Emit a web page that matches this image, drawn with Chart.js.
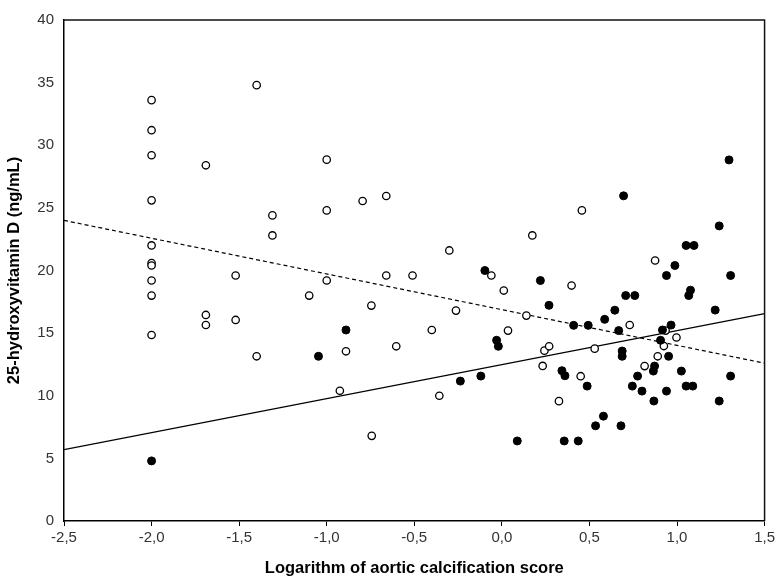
<!DOCTYPE html>
<html>
<head>
<meta charset="utf-8">
<script src="https://cdn.jsdelivr.net/npm/chart.js@4/dist/chart.umd.min.js"></script>
<style>
  html, body { margin: 0; padding: 0; background: #fff; }
  #wrap { width: 778px; height: 578px; position: relative; }
</style>
</head>
<body>
<div id="wrap"><canvas id="c" width="778" height="578"></canvas></div>
<script>
// ---- Data ----
const openX = [-2.0, -2.0, -2.0, -2.0, -2.0, -2.0, -2.0, -2.0, -2.0, -2.0,
  -1.69, -1.69, -1.69, -1.52, -1.52, -1.40, -1.40, -1.31, -1.31, -1.10,
  -1.00, -1.00, -1.00, -0.925, -0.89, -0.795, -0.745, -0.743, -0.66, -0.66,
  -0.603, -0.51, -0.40, -0.357, -0.30, -0.262, -0.06, 0.011, 0.035, 0.14,
  0.174, 0.233, 0.243, 0.27, 0.326, 0.398, 0.45, 0.457, 0.53, 0.73,
  0.815, 0.875, 0.89, 0.925, 0.997, 0.935];
const openY = [33.6, 31.2, 29.2, 25.6, 22.0, 20.6, 20.4, 19.2, 18.0, 14.85,
  28.4, 16.45, 15.65, 19.6, 16.05, 34.8, 13.15, 24.4, 22.8, 18.0,
  28.85, 24.8, 19.2, 10.4, 13.55, 25.55, 17.2, 6.8, 25.95, 19.6,
  13.95, 19.6, 15.25, 10.0, 21.6, 16.8, 19.6, 18.4, 15.2, 16.4,
  22.8, 12.38, 13.6, 13.95, 9.57, 18.8, 11.56, 24.8, 13.76, 15.65,
  12.37, 20.8, 13.15, 13.97, 14.65, 15.2];

const filledX = [-2.0, -1.047, -0.89, -0.237, -0.12, -0.097, -0.03, -0.02, 0.088, 0.22,
  0.269, 0.343, 0.36, 0.356, 0.436, 0.41, 0.493, 0.487, 0.535, 0.58,
  0.587, 0.645, 0.667, 0.687, 0.687, 0.68, 0.695, 0.707, 0.759, 0.745,
  0.775, 0.80, 0.868, 0.865, 0.872, 0.906, 0.917, 0.94, 0.94, 0.952,
  0.966, 0.988, 1.025, 1.052, 1.097, 1.067, 1.077, 1.052, 1.09, 1.218,
  1.241, 1.241, 1.297, 1.306, 1.306];
const filledY = [4.8, 13.15, 15.25, 11.17, 11.57, 20.0, 14.43, 13.95, 6.39, 19.2,
  17.22, 12.0, 11.6, 6.39, 6.39, 15.62, 15.62, 10.77, 7.6, 8.37,
  16.1, 16.83, 15.2, 13.57, 13.15, 7.6, 25.96, 18.0, 18.0, 10.77,
  11.57, 10.37, 9.58, 11.97, 12.37, 14.43, 15.25, 19.6, 10.37, 13.15,
  15.64, 20.4, 11.97, 22.0, 22.0, 18.0, 18.43, 10.77, 10.77, 16.84,
  23.56, 9.58, 28.83, 19.6, 11.57];

const solidLineX = [-2.5, 1.5];
const solidLineY = [5.7, 16.56];
const dashedLineX = [-2.5, 1.5];
const dashedLineY = [24.0, 12.6];

const xTickValues = [-2.5, -2.0, -1.5, -1.0, -0.5, 0.0, 0.5, 1.0, 1.5];
const xTickLabels = ['-2,5', '-2,0', '-1,5', '-1,0', '-0,5', '0,0', '0,5', '1,0', '1,5'];
const yTickValues = [0, 5, 10, 15, 20, 25, 30, 35, 40];
const yTickLabels = ['0', '5', '10', '15', '20', '25', '30', '35', '40'];

const xTitle = 'Logarithm of aortic calcification score';
const yTitle = '25-hydroxyvitamin D (ng/mL)';

// ---- Build ----
const pts = (xs, ys) => xs.map((x, i) => ({ x: x, y: ys[i] }));

const tickFont = { family: "'Liberation Sans Narrow', 'Arial Narrow', 'Liberation Sans', sans-serif", size: 15 };
const titleFont = { family: "'Liberation Sans', Arial, sans-serif", size: 16.5, weight: 'bold' };

const boxPlugin = {
  id: 'box',
  afterDraw(chart) {
    const a = chart.chartArea, ctx = chart.ctx;
    ctx.save();
    ctx.strokeStyle = '#111';
    ctx.lineWidth = 1.5;
    ctx.beginPath();
    ctx.moveTo(a.left, a.top);
    ctx.lineTo(a.right, a.top);
    ctx.lineTo(a.right, a.bottom);
    ctx.stroke();
    ctx.restore();
  }
};

new Chart(document.getElementById('c'), {
  type: 'scatter',
  data: {
    datasets: [
      {
        label: 'filled',
        data: pts(filledX, filledY),
        pointRadius: 4,
        pointBackgroundColor: '#000',
        pointBorderColor: '#000',
        pointBorderWidth: 1,
        showLine: false
      },
      {
        label: 'open',
        data: pts(openX, openY),
        pointRadius: 3.7,
        pointBackgroundColor: '#fff',
        pointBorderColor: '#000',
        pointBorderWidth: 1.3,
        showLine: false
      },
      {
        type: 'line',
        label: 'solid',
        data: pts(solidLineX, solidLineY),
        borderColor: '#000',
        borderWidth: 1.2,
        pointRadius: 0,
        fill: false
      },
      {
        type: 'line',
        label: 'dashed',
        data: pts(dashedLineX, dashedLineY),
        borderColor: '#000',
        borderWidth: 1.2,
        borderDash: [4, 3],
        pointRadius: 0,
        fill: false
      }
    ]
  },
  options: {
    responsive: false,
    animation: false,
    layout: { padding: { top: 20, right: 11, left: 0, bottom: 0 } },
    plugins: { legend: { display: false }, tooltip: { enabled: false } },
    scales: {
      x: {
        type: 'linear',
        min: -2.5, max: 1.5,
        afterBuildTicks(s) { s.ticks = xTickValues.map(v => ({ value: v })); },
        afterFit(s) { s.height = 57; },
        grid: { display: true, drawOnChartArea: false, drawTicks: true, tickLength: 5, color: '#000', lineWidth: 1 },
        border: { display: true, color: '#000', width: 1.5 },
        ticks: {
          font: tickFont, color: '#333', padding: 3, maxRotation: 0, autoSkip: false,
          callback(v) { const i = xTickValues.indexOf(v); return i >= 0 ? xTickLabels[i] : ''; }
        },
        title: { display: true, text: xTitle, font: titleFont, color: '#000', padding: { top: 0, bottom: 0 } }
      },
      y: {
        type: 'linear',
        min: 0, max: 40,
        afterBuildTicks(s) { s.ticks = yTickValues.map(v => ({ value: v })); },
        afterFit(s) { s.width = 64; },
        grid: { display: false, drawTicks: false },
        border: { display: true, color: '#000', width: 1.5 },
        ticks: {
          font: tickFont, color: '#333', padding: 10, autoSkip: false,
          callback(v) { const i = yTickValues.indexOf(v); return i >= 0 ? yTickLabels[i] : ''; }
        },
        title: { display: true, text: yTitle, font: titleFont, color: '#000', padding: { top: 5, bottom: 0 } }
      }
    }
  },
  plugins: [boxPlugin]
});
</script>
</body>
</html>
